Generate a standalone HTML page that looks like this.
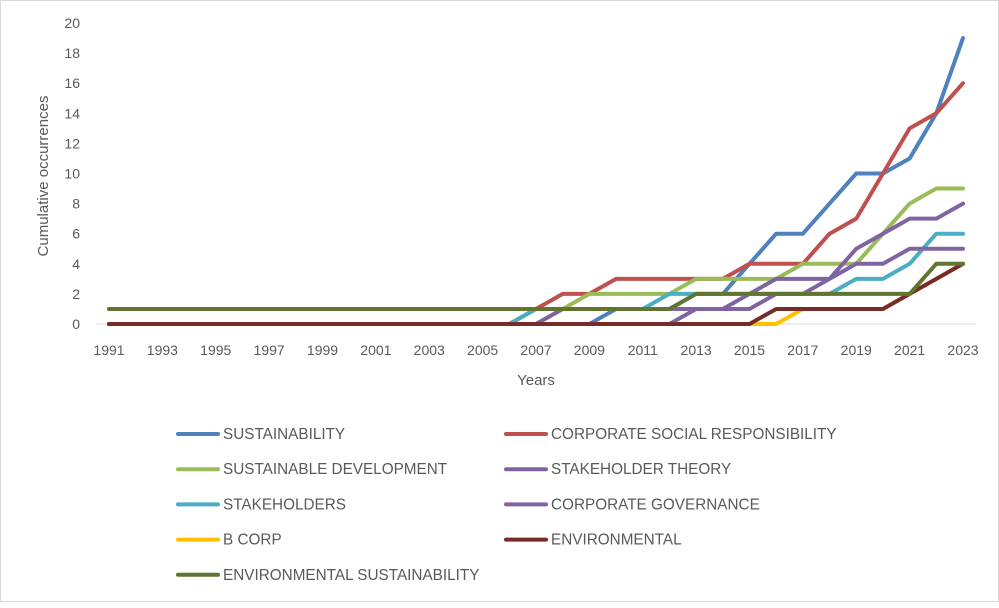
<!DOCTYPE html>
<html><head><meta charset="utf-8"><style>
body{margin:0;background:#fff;font-family:"Liberation Sans",sans-serif}
#wrap{position:relative;width:999px;height:602px;box-sizing:border-box;border:1px solid #d9d9d9}
</style></head><body>
<div id="wrap">
<svg id="chart" width="999" height="602"></svg>
</div>
<script>
const years=[];for(let y=1991;y<=2023;y++)years.push(y);
const seriesNames=["SUSTAINABILITY","CORPORATE SOCIAL RESPONSIBILITY","SUSTAINABLE DEVELOPMENT","STAKEHOLDER THEORY","STAKEHOLDERS","CORPORATE GOVERNANCE","B CORP","ENVIRONMENTAL","ENVIRONMENTAL SUSTAINABILITY"];
const seriesColors=["#4f81bd","#c0504d","#9bbb59","#8064a2","#4bacc6","#8064a2","#ffc000","#772c2a","#5f7530"];
const pad=n=>Array(n).fill(0);
const ones=n=>Array(n).fill(1);
// 1991..2023
const sustainability=[...pad(19),1,1,1,2,2,4,6,6,8,10,10,11,14,19];
const csr=[...pad(16),1,2,2,3,3,3,3,3,4,4,4,6,7,10,13,14,16];
const sustDev=[...pad(17),1,2,2,2,2,3,3,3,3,4,4,4,6,8,9,9];
const stakeTheory=[...pad(17),1,1,1,1,1,1,1,2,3,3,3,5,6,7,7,8];
const stakeholders=[...pad(16),1,1,1,1,1,2,2,2,2,2,2,2,3,3,4,6,6];
const corpGov=[...pad(22),1,1,1,2,2,3,4,4,5,5,5];
const bCorp=[...pad(26),1,1,1,1,2,3,4];
const environmental=[...pad(25),1,1,1,1,1,2,3,4];
const envSust=[...ones(22),2,2,2,2,2,2,2,2,2,4,4];
const seriesValues=[sustainability,csr,sustDev,stakeTheory,stakeholders,corpGov,bCorp,environmental,envSust];
const yTicks=[0,2,4,6,8,10,12,14,16,18,20];
const xTickLabels=years.filter(y=>(y-1991)%2===0);

const svg=document.getElementById('chart');
const NS="http://www.w3.org/2000/svg";
const x0=108,x1=962,yb=323,yt=22;
const xs=y=>x0+(y-1991)*(x1-x0)/(2023-1991);
const ys=v=>yb-v*(yb-yt)/20;
function mk(t,a){const e=document.createElementNS(NS,t);for(const k in a)e.setAttribute(k,a[k]);svg.appendChild(e);return e;}

yTicks.forEach(v=>{
  const t=mk('text',{x:79,y:ys(v)+5,'text-anchor':'end','font-size':14,fill:'#595959'});
  t.textContent=v;
  
  
});
const ax=mk('line',{x1:95,x2:975,y1:yb,y2:yb,stroke:'#d9d9d9','stroke-width':1});


xTickLabels.forEach(y=>{
  const t=mk('text',{x:xs(y),y:354,'text-anchor':'middle','font-size':14,fill:'#595959'});
  t.textContent=y;
  
  
});
const xt=mk('text',{x:535,y:384,'text-anchor':'middle','font-size':15,fill:'#595959'});
xt.textContent='Years';


const yt2=mk('text',{x:0,y:0,'text-anchor':'middle','font-size':15,fill:'#595959',transform:'translate(47,175) rotate(-90)'});
yt2.textContent='Cumulative occurrences';



seriesValues.forEach((vals,i)=>{
  const pts=vals.map((v,j)=>xs(years[j])+','+ys(v)).join(' ');
  const p=mk('polyline',{points:pts,fill:'none',stroke:seriesColors[i],'stroke-width':4,'stroke-linejoin':'round','stroke-linecap':'round'});
  
  
});

seriesNames.forEach((n,i)=>{
  const col=i%2,row=Math.floor(i/2);
  const lx=col?505:177,ly=433+row*35.2;
  const g=document.createElementNS(NS,'g');svg.appendChild(g);
  
  
  const l=document.createElementNS(NS,'line');
  [['x1',lx],['x2',lx+40],['y1',ly],['y2',ly],['stroke',seriesColors[i]],['stroke-width',4],['stroke-linecap','round']].forEach(a=>l.setAttribute(a[0],a[1]));
  g.appendChild(l);
  const t=document.createElementNS(NS,'text');
  [['x',lx+45],['y',ly+5],['font-size',15.3],['fill','#595959']].forEach(a=>t.setAttribute(a[0],a[1]));
  t.textContent=n;g.appendChild(t);
});
</script>
</body></html>
